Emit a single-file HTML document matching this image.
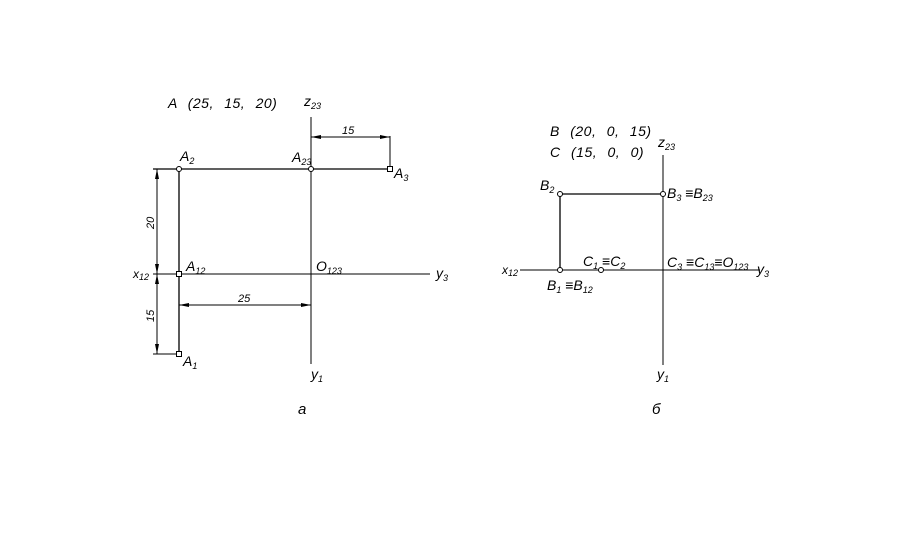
<!DOCTYPE html>
<html><head><meta charset="utf-8"><style>
html,body{margin:0;padding:0;background:#fff;}
svg{display:block}
text{font-family:"Liberation Sans",sans-serif;font-style:italic;fill:#000;font-size:14px}
.s{font-size:9px}
.w{word-spacing:6px;letter-spacing:0.5px}
</style></head><body>
<svg width="909" height="550" viewBox="0 0 909 550" xmlns="http://www.w3.org/2000/svg">
<defs>
<marker id="ar" markerWidth="10" markerHeight="6" refX="10" refY="3" orient="auto" markerUnits="userSpaceOnUse"><path d="M0,1 L10,3 L0,5z" fill="#000"/></marker>
</defs>
<g stroke="#000" stroke-width="1" fill="none">
<line x1="311" y1="117" x2="311" y2="364"/>
<line x1="153" y1="274" x2="430" y2="274"/>
<line x1="153" y1="169" x2="390" y2="169" stroke-width="1.3"/>
<line x1="390" y1="136" x2="390" y2="169"/>
<line x1="179" y1="169" x2="179" y2="354" stroke-width="1.3"/>
<line x1="153" y1="354" x2="179" y2="354"/>
<line x1="157" y1="221" x2="157" y2="169" marker-end="url(#ar)"/>
<line x1="157" y1="221" x2="157" y2="274" marker-end="url(#ar)"/>
<line x1="157" y1="314" x2="157" y2="274" marker-end="url(#ar)"/>
<line x1="157" y1="314" x2="157" y2="354" marker-end="url(#ar)"/>
<line x1="350" y1="137" x2="311" y2="137" marker-end="url(#ar)"/>
<line x1="350" y1="137" x2="390" y2="137" marker-end="url(#ar)"/>
<line x1="245" y1="305" x2="179" y2="305" marker-end="url(#ar)"/>
<line x1="245" y1="305" x2="311" y2="305" marker-end="url(#ar)"/>
<line x1="663" y1="155" x2="663" y2="365"/>
<line x1="520" y1="270" x2="760" y2="270"/>
<line x1="560" y1="194" x2="663" y2="194" stroke-width="1.3"/>
<line x1="560" y1="194" x2="560" y2="270" stroke-width="1.3"/>
</g>
<g stroke="#000" fill="#fff" stroke-width="1">
<circle cx="179" cy="169" r="2.5"/><circle cx="311" cy="169" r="2.5"/>
<rect x="387.5" y="166.5" width="5" height="5"/>
<rect x="176.5" y="271.5" width="5" height="5"/>
<rect x="176.5" y="351.5" width="5" height="5"/>
<circle cx="560" cy="194" r="2.5"/><circle cx="663" cy="194" r="2.5"/>
<circle cx="560" cy="270" r="2.5"/><circle cx="601" cy="270" r="2.5"/>
</g>
<text x="168" y="108" class="w">A (25, 15, 20)</text>
<text x="304" y="106">z<tspan class="s" dy="3">23</tspan></text>
<text x="342" y="134" style="font-size:11px">15</text>
<text x="180" y="161">A<tspan class="s" dy="3">2</tspan></text>
<text x="292" y="162">A<tspan class="s" dy="3">23</tspan></text>
<text x="394" y="178">A<tspan class="s" dy="3">3</tspan></text>
<text x="186" y="271">A<tspan class="s" dy="3">12</tspan></text>
<text x="316" y="271">O<tspan class="s" dy="3">123</tspan></text>
<text x="436" y="278">y<tspan class="s" dy="3">3</tspan></text>
<text x="133" y="278" style="font-size:12px">x<tspan class="s" dy="2">12</tspan></text>
<text x="183" y="366">A<tspan class="s" dy="3">1</tspan></text>
<text x="311" y="379">y<tspan class="s" dy="3">1</tspan></text>
<text x="238" y="302" style="font-size:11px">25</text>
<text transform="translate(154,229) rotate(-90)" style="font-size:11px">20</text>
<text transform="translate(154,322) rotate(-90)" style="font-size:11px">15</text>
<text x="298" y="414" style="font-size:15px">a</text>
<text x="550" y="136" class="w">B (20, 0, 15)</text>
<text x="550" y="157" class="w">C (15, 0, 0)</text>
<text x="658" y="147">z<tspan class="s" dy="3">23</tspan></text>
<text x="540" y="190">B<tspan class="s" dy="3">2</tspan></text>
<text x="667" y="198">B<tspan class="s" dy="3">3</tspan><tspan dy="-3"> ≡B</tspan><tspan class="s" dy="3">23</tspan></text>
<text x="583" y="266">C<tspan class="s" dy="3">1</tspan><tspan dy="-3"> ≡C</tspan><tspan class="s" dy="3">2</tspan></text>
<text x="667" y="267">C<tspan class="s" dy="3">3</tspan><tspan dy="-3"> ≡C</tspan><tspan class="s" dy="3">13</tspan><tspan dy="-3">≡O</tspan><tspan class="s" dy="3">123</tspan></text>
<text x="757" y="274">y<tspan class="s" dy="3">3</tspan></text>
<text x="502" y="274" style="font-size:12px">x<tspan class="s" dy="2">12</tspan></text>
<text x="547" y="290">B<tspan class="s" dy="3">1</tspan><tspan dy="-3"> ≡B</tspan><tspan class="s" dy="3">12</tspan></text>
<text x="657" y="379">y<tspan class="s" dy="3">1</tspan></text>
<text x="652" y="414" style="font-size:15px">б</text>
</svg>
</body></html>
